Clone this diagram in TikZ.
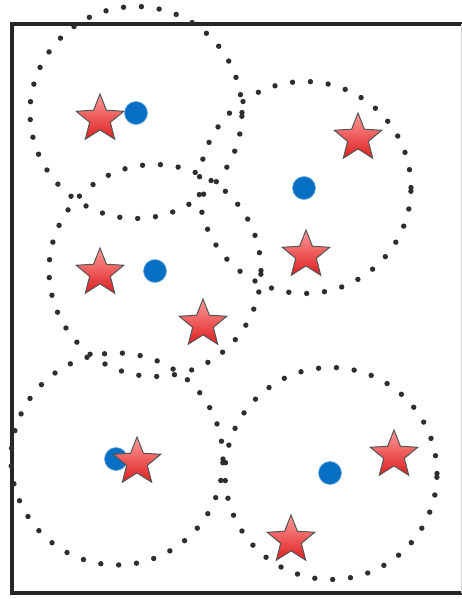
\documentclass[tikz,border=0pt]{standalone}
\usetikzlibrary{shapes.geometric}
\definecolor{framecol}{HTML}{262626}
\definecolor{dotcol}{HTML}{2E2E2E}
\definecolor{bluedot}{RGB}{8,112,196}
\definecolor{startop}{HTML}{FF9A9A}
\definecolor{starbot}{HTML}{DD1F1F}
\definecolor{staredge}{HTML}{555555}
\tikzset{
  region/.style={circle, draw=dotcol, line width=5.4pt, line cap=round,
    dash pattern=on 0pt off 17.9pt, minimum size=212pt, inner sep=0pt},
  centre/.style={circle, fill=bluedot, draw=bluedot!60, line width=0.6pt,
    minimum size=23pt, inner sep=0pt},
  point/.style={star, star points=5, star point ratio=2.3, minimum size=50pt,
    inner sep=0pt, draw=staredge, line width=1pt,
    top color=startop, bottom color=starbot, shading angle=0}
}
\begin{document}
\begin{tikzpicture}[x=1pt,y=-1pt]
\useasboundingbox (0,0) rectangle (462,599);
\clip (0,0) rectangle (462,599);
\fill[white] (0,0) rectangle (462,599);
% frame
\draw[framecol, line width=4pt] (475,24.5) -- (11.5,24.5) -- (11.5,593) -- (475,593);
\draw[gray!35, line width=0.8pt] (461.3,24) -- (461.3,593);
% dotted regions
\node[region] (r1) at (136,112.5) {};
\node[region] (r2) at (305,187.5) {};
\node[region] (r3) at (155,270.5) {};
\node[region] (r4) at (117,459) {};
\node[region] (r5) at (331,473.5) {};
% centres
\node[centre] (c1) at (136,113) {};
\node[centre] (c2) at (304,188) {};
\node[centre] (c3) at (155,271) {};
\node[centre] (c4) at (116,459) {};
\node[centre] (c5) at (330,473) {};
% points
\node[point] (p1) at (100,119) {};
\node[point] (p2) at (358,138) {};
\node[point] (p3) at (306,255) {};
\node[point] (p4) at (100,273) {};
\node[point] (p5) at (203,324) {};
\node[point] (p6) at (137,462) {};
\node[point] (p7) at (394,455) {};
\node[point] (p8) at (291,540) {};
\end{tikzpicture}
\end{document}
